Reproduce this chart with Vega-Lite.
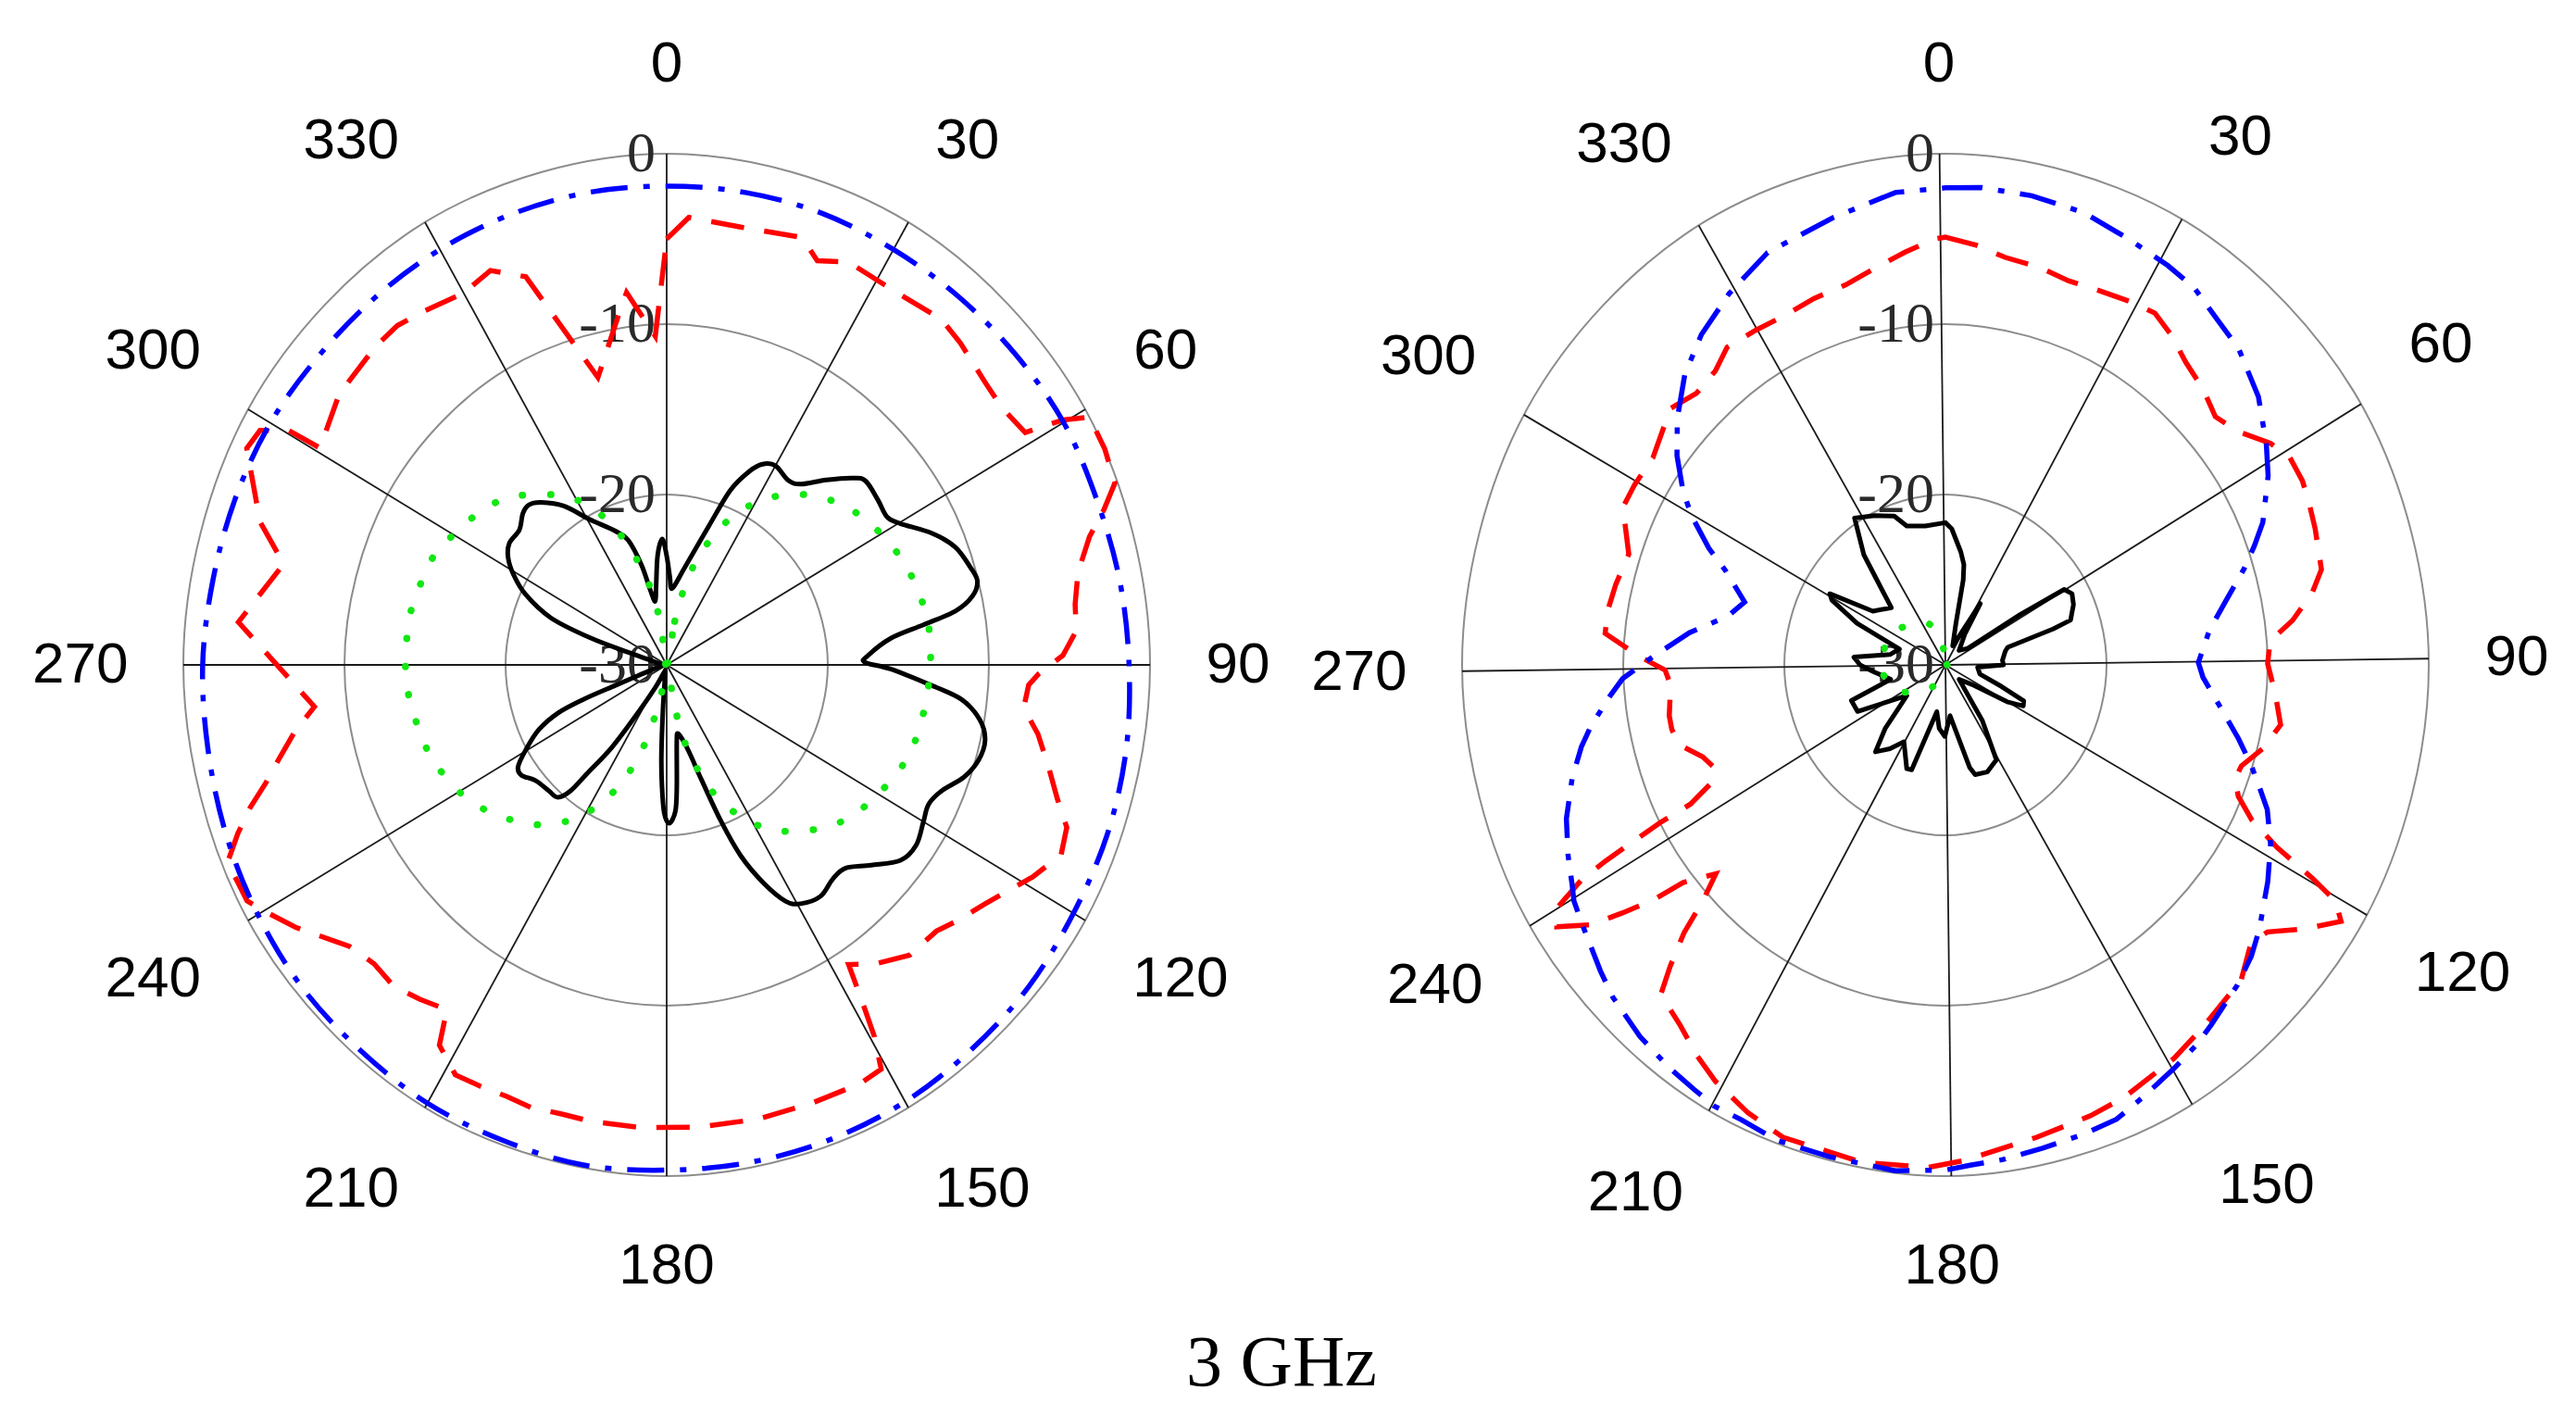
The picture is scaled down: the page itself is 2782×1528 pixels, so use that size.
{
  "$schema": "https://vega.github.io/schema/vega-lite/v6.json",
  "width": 2782,
  "height": 1528,
  "autosize": {"type": "fit", "contains": "padding"},
  "padding": 0,
  "background": "white",
  "config": {"view": {"stroke": null}},
  "datasets": {
    "rings": [
      {"chart":"L","db":-20,"angle":0},{"chart":"L","db":-20,"angle":30},{"chart":"L","db":-20,"angle":60},{"chart":"L","db":-20,"angle":90},{"chart":"L","db":-20,"angle":120},{"chart":"L","db":-20,"angle":150},{"chart":"L","db":-20,"angle":180},{"chart":"L","db":-20,"angle":210},{"chart":"L","db":-20,"angle":240},{"chart":"L","db":-20,"angle":270},{"chart":"L","db":-20,"angle":300},{"chart":"L","db":-20,"angle":330},
      {"chart":"L","db":-10,"angle":0},{"chart":"L","db":-10,"angle":30},{"chart":"L","db":-10,"angle":60},{"chart":"L","db":-10,"angle":90},{"chart":"L","db":-10,"angle":120},{"chart":"L","db":-10,"angle":150},{"chart":"L","db":-10,"angle":180},{"chart":"L","db":-10,"angle":210},{"chart":"L","db":-10,"angle":240},{"chart":"L","db":-10,"angle":270},{"chart":"L","db":-10,"angle":300},{"chart":"L","db":-10,"angle":330},
      {"chart":"L","db":0,"angle":0},{"chart":"L","db":0,"angle":30},{"chart":"L","db":0,"angle":60},{"chart":"L","db":0,"angle":90},{"chart":"L","db":0,"angle":120},{"chart":"L","db":0,"angle":150},{"chart":"L","db":0,"angle":180},{"chart":"L","db":0,"angle":210},{"chart":"L","db":0,"angle":240},{"chart":"L","db":0,"angle":270},{"chart":"L","db":0,"angle":300},{"chart":"L","db":0,"angle":330},
      {"chart":"R","db":-20,"angle":0},{"chart":"R","db":-20,"angle":30},{"chart":"R","db":-20,"angle":60},{"chart":"R","db":-20,"angle":90},{"chart":"R","db":-20,"angle":120},{"chart":"R","db":-20,"angle":150},{"chart":"R","db":-20,"angle":180},{"chart":"R","db":-20,"angle":210},{"chart":"R","db":-20,"angle":240},{"chart":"R","db":-20,"angle":270},{"chart":"R","db":-20,"angle":300},{"chart":"R","db":-20,"angle":330},
      {"chart":"R","db":-10,"angle":0},{"chart":"R","db":-10,"angle":30},{"chart":"R","db":-10,"angle":60},{"chart":"R","db":-10,"angle":90},{"chart":"R","db":-10,"angle":120},{"chart":"R","db":-10,"angle":150},{"chart":"R","db":-10,"angle":180},{"chart":"R","db":-10,"angle":210},{"chart":"R","db":-10,"angle":240},{"chart":"R","db":-10,"angle":270},{"chart":"R","db":-10,"angle":300},{"chart":"R","db":-10,"angle":330},
      {"chart":"R","db":0,"angle":0},{"chart":"R","db":0,"angle":30},{"chart":"R","db":0,"angle":60},{"chart":"R","db":0,"angle":90},{"chart":"R","db":0,"angle":120},{"chart":"R","db":0,"angle":150},{"chart":"R","db":0,"angle":180},{"chart":"R","db":0,"angle":210},{"chart":"R","db":0,"angle":240},{"chart":"R","db":0,"angle":270},{"chart":"R","db":0,"angle":300},{"chart":"R","db":0,"angle":330}
    ],
    "spokes": [
      {"chart":"L","angle":0,"label":"0"},{"chart":"L","angle":30,"label":"30"},{"chart":"L","angle":60,"label":"60"},{"chart":"L","angle":90,"label":"90"},{"chart":"L","angle":120,"label":"120"},{"chart":"L","angle":150,"label":"150"},{"chart":"L","angle":180,"label":"180"},{"chart":"L","angle":210,"label":"210"},{"chart":"L","angle":240,"label":"240"},{"chart":"L","angle":270,"label":"270"},{"chart":"L","angle":300,"label":"300"},{"chart":"L","angle":330,"label":"330"},
      {"chart":"R","angle":0,"label":"0"},{"chart":"R","angle":30,"label":"30"},{"chart":"R","angle":60,"label":"60"},{"chart":"R","angle":90,"label":"90"},{"chart":"R","angle":120,"label":"120"},{"chart":"R","angle":150,"label":"150"},{"chart":"R","angle":180,"label":"180"},{"chart":"R","angle":210,"label":"210"},{"chart":"R","angle":240,"label":"240"},{"chart":"R","angle":270,"label":"270"},{"chart":"R","angle":300,"label":"300"},{"chart":"R","angle":330,"label":"330"}
    ],
    "radial": [
      {"chart":"L","db":0,"label":"0"},{"chart":"L","db":-10,"label":"-10"},{"chart":"L","db":-20,"label":"-20"},{"chart":"L","db":-30,"label":"-30"},
      {"chart":"R","db":0,"label":"0"},{"chart":"R","db":-10,"label":"-10"},{"chart":"R","db":-20,"label":"-20"},{"chart":"R","db":-30,"label":"-30"}
    ],
    "series": [
      {"chart":"L","series":"blue","angle":0,"db":-1.9},{"chart":"L","series":"blue","angle":10,"db":-1.85},{"chart":"L","series":"blue","angle":20,"db":-1.8},{"chart":"L","series":"blue","angle":30,"db":-1.85},{"chart":"L","series":"blue","angle":40,"db":-1.8},{"chart":"L","series":"blue","angle":50,"db":-1.7},{"chart":"L","series":"blue","angle":60,"db":-1.55},{"chart":"L","series":"blue","angle":70,"db":-1.6},{"chart":"L","series":"blue","angle":80,"db":-1.45},{"chart":"L","series":"blue","angle":90,"db":-1.3},{"chart":"L","series":"blue","angle":100,"db":-1.05},{"chart":"L","series":"blue","angle":110,"db":-0.9},{"chart":"L","series":"blue","angle":120,"db":-0.85},{"chart":"L","series":"blue","angle":130,"db":-0.65},{"chart":"L","series":"blue","angle":140,"db":-0.55},{"chart":"L","series":"blue","angle":150,"db":-0.4},{"chart":"L","series":"blue","angle":160,"db":-0.35},{"chart":"L","series":"blue","angle":170,"db":-0.35},{"chart":"L","series":"blue","angle":180,"db":-0.35},{"chart":"L","series":"blue","angle":190,"db":-0.2},{"chart":"L","series":"blue","angle":200,"db":-0.3},{"chart":"L","series":"blue","angle":210,"db":-0.3},{"chart":"L","series":"blue","angle":220,"db":-0.45},{"chart":"L","series":"blue","angle":230,"db":-0.5},{"chart":"L","series":"blue","angle":240,"db":-0.7},{"chart":"L","series":"blue","angle":250,"db":-0.9},{"chart":"L","series":"blue","angle":260,"db":-1.1},{"chart":"L","series":"blue","angle":270,"db":-1.2},{"chart":"L","series":"blue","angle":280,"db":-1.4},{"chart":"L","series":"blue","angle":290,"db":-1.5},{"chart":"L","series":"blue","angle":300,"db":-1.6},{"chart":"L","series":"blue","angle":310,"db":-1.8},{"chart":"L","series":"blue","angle":320,"db":-1.85},{"chart":"L","series":"blue","angle":330,"db":-1.85},{"chart":"L","series":"blue","angle":340,"db":-1.85},{"chart":"L","series":"blue","angle":350,"db":-1.85},

      {"chart":"L","series":"red","angle":0,"db":-5.0},{"chart":"L","series":"red","angle":3,"db":-3.7},{"chart":"L","series":"red","angle":10,"db":-3.9},{"chart":"L","series":"red","angle":18.5,"db":-3.55},{"chart":"L","series":"red","angle":21.5,"db":-4.5},{"chart":"L","series":"red","angle":25.5,"db":-3.8},{"chart":"L","series":"red","angle":33,"db":-3.9},{"chart":"L","series":"red","angle":40,"db":-3.5},{"chart":"L","series":"red","angle":44,"db":-3.75},{"chart":"L","series":"red","angle":50,"db":-4.2},{"chart":"L","series":"red","angle":54,"db":-4.3},{"chart":"L","series":"red","angle":58.5,"db":-3.9},{"chart":"L","series":"red","angle":59.7,"db":-1.5},{"chart":"L","series":"red","angle":61,"db":0.0},{"chart":"L","series":"red","angle":65,"db":0.0},{"chart":"L","series":"red","angle":69,"db":-0.2},{"chart":"L","series":"red","angle":71.5,"db":-1.4},{"chart":"L","series":"red","angle":74,"db":-2.7},{"chart":"L","series":"red","angle":78,"db":-3.9},{"chart":"L","series":"red","angle":82,"db":-4.4},{"chart":"L","series":"red","angle":85.5,"db":-4.5},{"chart":"L","series":"red","angle":88.7,"db":-5.4},{"chart":"L","series":"red","angle":91.3,"db":-6.9},{"chart":"L","series":"red","angle":93,"db":-7.5},{"chart":"L","series":"red","angle":96.5,"db":-7.7},{"chart":"L","series":"red","angle":100,"db":-6.6},{"chart":"L","series":"red","angle":104,"db":-5.6},{"chart":"L","series":"red","angle":108,"db":-4.5},{"chart":"L","series":"red","angle":111,"db":-3.4},{"chart":"L","series":"red","angle":114.5,"db":-3.1},{"chart":"L","series":"red","angle":118.7,"db":-4.1},{"chart":"L","series":"red","angle":122,"db":-5.0},{"chart":"L","series":"red","angle":125.5,"db":-5.8},{"chart":"L","series":"red","angle":129.6,"db":-6.5},{"chart":"L","series":"red","angle":133,"db":-7.1},{"chart":"L","series":"red","angle":138.5,"db":-7.25},{"chart":"L","series":"red","angle":143.6,"db":-8.2},{"chart":"L","series":"red","angle":147.3,"db":-9.1},{"chart":"L","series":"red","angle":148.4,"db":-6.9},{"chart":"L","series":"red","angle":149.4,"db":-4.7},{"chart":"L","series":"red","angle":150.7,"db":-2.8},{"chart":"L","series":"red","angle":154,"db":-2.65},{"chart":"L","series":"red","angle":160.6,"db":-2.75},{"chart":"L","series":"red","angle":168,"db":-2.75},{"chart":"L","series":"red","angle":176,"db":-2.8},{"chart":"L","series":"red","angle":183.3,"db":-2.8},{"chart":"L","series":"red","angle":190,"db":-2.8},{"chart":"L","series":"red","angle":194,"db":-2.85},{"chart":"L","series":"red","angle":198,"db":-2.7},{"chart":"L","series":"red","angle":201.4,"db":-2.8},{"chart":"L","series":"red","angle":205,"db":-2.7},{"chart":"L","series":"red","angle":208.6,"db":-2.6},{"chart":"L","series":"red","angle":212.3,"db":-3.6},{"chart":"L","series":"red","angle":214,"db":-5.6},{"chart":"L","series":"red","angle":218,"db":-5.1},{"chart":"L","series":"red","angle":222,"db":-4.65},{"chart":"L","series":"red","angle":226,"db":-4.75},{"chart":"L","series":"red","angle":230,"db":-4.3},{"chart":"L","series":"red","angle":236.2,"db":-2.3},{"chart":"L","series":"red","angle":239.5,"db":-1.3},{"chart":"L","series":"red","angle":242,"db":-0.5},{"chart":"L","series":"red","angle":247,"db":-0.4},{"chart":"L","series":"red","angle":249.6,"db":-1.6},{"chart":"L","series":"red","angle":252,"db":-2.8},{"chart":"L","series":"red","angle":254.5,"db":-4.2},{"chart":"L","series":"red","angle":257.3,"db":-5.4},{"chart":"L","series":"red","angle":260.4,"db":-6.6},{"chart":"L","series":"red","angle":263.6,"db":-8.0},{"chart":"L","series":"red","angle":275.4,"db":-3.3},{"chart":"L","series":"red","angle":284,"db":-5.5},{"chart":"L","series":"red","angle":288.4,"db":-3.4},{"chart":"L","series":"red","angle":296,"db":-1.0},{"chart":"L","series":"red","angle":298.6,"db":-1.25},{"chart":"L","series":"red","angle":300.4,"db":-2.8},{"chart":"L","series":"red","angle":300.6,"db":-5.0},{"chart":"L","series":"red","angle":308,"db":-4.2},{"chart":"L","series":"red","angle":316,"db":-4.0},{"chart":"L","series":"red","angle":320,"db":-4.0},{"chart":"L","series":"red","angle":324,"db":-4.35},{"chart":"L","series":"red","angle":330,"db":-4.8},{"chart":"L","series":"red","angle":334.7,"db":-4.4},{"chart":"L","series":"red","angle":339,"db":-5.6},{"chart":"L","series":"red","angle":345.8,"db":-12.6},{"chart":"L","series":"red","angle":351.8,"db":-9.2},{"chart":"L","series":"red","angle":353.5,"db":-8.0},{"chart":"L","series":"red","angle":357.9,"db":-10.7},

      {"chart":"L","series":"green","angle":0,"db":-30},{"chart":"L","series":"green","angle":11,"db":-27.4},{"chart":"L","series":"green","angle":14,"db":-25.1},{"chart":"L","series":"green","angle":17.7,"db":-23.2},{"chart":"L","series":"green","angle":23,"db":-21.1},{"chart":"L","series":"green","angle":29.3,"db":-19.2},{"chart":"L","series":"green","angle":35.4,"db":-17.8},{"chart":"L","series":"green","angle":42,"db":-16.6},{"chart":"L","series":"green","angle":48.5,"db":-15.7},{"chart":"L","series":"green","angle":53.2,"db":-15.2},{"chart":"L","series":"green","angle":60.4,"db":-14.6},{"chart":"L","series":"green","angle":67.7,"db":-14.1},{"chart":"L","series":"green","angle":74.5,"db":-13.8},{"chart":"L","series":"green","angle":81,"db":-13.6},{"chart":"L","series":"green","angle":87.4,"db":-13.6},{"chart":"L","series":"green","angle":94,"db":-13.7},{"chart":"L","series":"green","angle":99.3,"db":-13.8},{"chart":"L","series":"green","angle":106.3,"db":-13.95},{"chart":"L","series":"green","angle":113.3,"db":-14.3},{"chart":"L","series":"green","angle":120.6,"db":-14.9},{"chart":"L","series":"green","angle":127.9,"db":-15.5},{"chart":"L","series":"green","angle":134.8,"db":-16.4},{"chart":"L","series":"green","angle":141.2,"db":-17.5},{"chart":"L","series":"green","angle":145.9,"db":-18.3},{"chart":"L","series":"green","angle":152.1,"db":-19.8},{"chart":"L","series":"green","angle":158.2,"db":-21.7},{"chart":"L","series":"green","angle":163.1,"db":-23.8},{"chart":"L","series":"green","angle":167.6,"db":-26.3},{"chart":"L","series":"green","angle":180,"db":-30},{"chart":"L","series":"green","angle":188,"db":-29.2},{"chart":"L","series":"green","angle":193.4,"db":-27},{"chart":"L","series":"green","angle":197.3,"db":-24.65},{"chart":"L","series":"green","angle":202,"db":-22.6},{"chart":"L","series":"green","angle":207,"db":-20.8},{"chart":"L","series":"green","angle":213.3,"db":-19.1},{"chart":"L","series":"green","angle":220.3,"db":-17.7},{"chart":"L","series":"green","angle":227,"db":-16.7},{"chart":"L","series":"green","angle":234,"db":-15.75},{"chart":"L","series":"green","angle":241.3,"db":-15.0},{"chart":"L","series":"green","angle":248.4,"db":-14.5},{"chart":"L","series":"green","angle":253.4,"db":-14.25},{"chart":"L","series":"green","angle":260.6,"db":-14.0},{"chart":"L","series":"green","angle":267,"db":-13.8},{"chart":"L","series":"green","angle":273.7,"db":-13.8},{"chart":"L","series":"green","angle":280.5,"db":-13.8},{"chart":"L","series":"green","angle":287.2,"db":-14.0},{"chart":"L","series":"green","angle":294,"db":-14.2},{"chart":"L","series":"green","angle":299.8,"db":-14.7},{"chart":"L","series":"green","angle":307.2,"db":-15.3},{"chart":"L","series":"green","angle":314.6,"db":-16.05},{"chart":"L","series":"green","angle":321.9,"db":-17.3},{"chart":"L","series":"green","angle":328.7,"db":-18.5},{"chart":"L","series":"green","angle":334.9,"db":-20.2},{"chart":"L","series":"green","angle":340.5,"db":-22.3},{"chart":"L","series":"green","angle":346.4,"db":-24.9},{"chart":"L","series":"green","angle":351,"db":-27.4},

      {"chart":"L","series":"black","angle":0,"db":-23.6},{"chart":"L","series":"black","angle":2.1,"db":-24.8},{"chart":"L","series":"black","angle":4.4,"db":-25.5},{"chart":"L","series":"black","angle":11,"db":-24.2},{"chart":"L","series":"black","angle":17.7,"db":-21.5},{"chart":"L","series":"black","angle":21.1,"db":-19.0},{"chart":"L","series":"black","angle":24.4,"db":-17.5},{"chart":"L","series":"black","angle":26.8,"db":-16.8},{"chart":"L","series":"black","angle":30,"db":-16.5},{"chart":"L","series":"black","angle":35,"db":-16.8},{"chart":"L","series":"black","angle":38.2,"db":-16.5},{"chart":"L","series":"black","angle":42.4,"db":-15.3},{"chart":"L","series":"black","angle":46.4,"db":-14.1},{"chart":"L","series":"black","angle":48.8,"db":-13.6},{"chart":"L","series":"black","angle":53.5,"db":-13.7},{"chart":"L","series":"black","angle":57.6,"db":-13.8},{"chart":"L","series":"black","angle":60.2,"db":-13.3},{"chart":"L","series":"black","angle":64.9,"db":-11.8},{"chart":"L","series":"black","angle":68.9,"db":-10.8},{"chart":"L","series":"black","angle":73.1,"db":-10.3},{"chart":"L","series":"black","angle":75.7,"db":-10.1},{"chart":"L","series":"black","angle":78,"db":-10.6},{"chart":"L","series":"black","angle":80,"db":-11.8},{"chart":"L","series":"black","angle":81.6,"db":-13.9},{"chart":"L","series":"black","angle":83.6,"db":-16.0},{"chart":"L","series":"black","angle":87.5,"db":-17.5},{"chart":"L","series":"black","angle":89.3,"db":-17.7},{"chart":"L","series":"black","angle":91,"db":-16.1},{"chart":"L","series":"black","angle":94,"db":-13.7},{"chart":"L","series":"black","angle":96.3,"db":-11.6},{"chart":"L","series":"black","angle":99.4,"db":-10.3},{"chart":"L","series":"black","angle":102.6,"db":-9.75},{"chart":"L","series":"black","angle":106.1,"db":-9.85},{"chart":"L","series":"black","angle":109.6,"db":-10.4},{"chart":"L","series":"black","angle":113.4,"db":-11.4},{"chart":"L","series":"black","angle":116.7,"db":-11.8},{"chart":"L","series":"black","angle":120,"db":-11.6},{"chart":"L","series":"black","angle":124.3,"db":-11.25},{"chart":"L","series":"black","angle":128.3,"db":-11.5},{"chart":"L","series":"black","angle":132.8,"db":-12.7},{"chart":"L","series":"black","angle":137,"db":-13.7},{"chart":"L","series":"black","angle":140.6,"db":-13.75},{"chart":"L","series":"black","angle":144.9,"db":-13.4},{"chart":"L","series":"black","angle":149.3,"db":-13.7},{"chart":"L","series":"black","angle":152,"db":-14.3},{"chart":"L","series":"black","angle":154.9,"db":-15.9},{"chart":"L","series":"black","angle":157.7,"db":-17.9},{"chart":"L","series":"black","angle":159.8,"db":-20.2},{"chart":"L","series":"black","angle":162.2,"db":-22.9},{"chart":"L","series":"black","angle":164.3,"db":-24.45},{"chart":"L","series":"black","angle":166.5,"db":-25.3},{"chart":"L","series":"black","angle":170,"db":-25.9},{"chart":"L","series":"black","angle":172,"db":-25.5},{"chart":"L","series":"black","angle":175,"db":-22.8},{"chart":"L","series":"black","angle":176.4,"db":-21.4},{"chart":"L","series":"black","angle":179,"db":-20.7},{"chart":"L","series":"black","angle":181,"db":-21.3},{"chart":"L","series":"black","angle":182.3,"db":-22.8},{"chart":"L","series":"black","angle":183.5,"db":-24.6},{"chart":"L","series":"black","angle":185,"db":-27.3},{"chart":"L","series":"black","angle":190,"db":-29.4},{"chart":"L","series":"black","angle":200,"db":-29.5},{"chart":"L","series":"black","angle":208,"db":-28.5},{"chart":"L","series":"black","angle":212.4,"db":-26.7},{"chart":"L","series":"black","angle":215.1,"db":-24.1},{"chart":"L","series":"black","angle":217.8,"db":-21.9},{"chart":"L","series":"black","angle":218.9,"db":-20.5},{"chart":"L","series":"black","angle":221,"db":-19.7},{"chart":"L","series":"black","angle":224.8,"db":-19.6},{"chart":"L","series":"black","angle":230.2,"db":-19.4},{"chart":"L","series":"black","angle":234.3,"db":-18.9},{"chart":"L","series":"black","angle":237,"db":-19.0},{"chart":"L","series":"black","angle":240.2,"db":-19.9},{"chart":"L","series":"black","angle":244.4,"db":-21.2},{"chart":"L","series":"black","angle":247.3,"db":-22.7},{"chart":"L","series":"black","angle":248.6,"db":-24.45},{"chart":"L","series":"black","angle":249.3,"db":-26.6},{"chart":"L","series":"black","angle":250.4,"db":-28.1},{"chart":"L","series":"black","angle":256,"db":-29.4},{"chart":"L","series":"black","angle":270,"db":-29.7},{"chart":"L","series":"black","angle":283,"db":-29.3},{"chart":"L","series":"black","angle":287,"db":-27.7},{"chart":"L","series":"black","angle":288.5,"db":-25.0},{"chart":"L","series":"black","angle":291,"db":-22.3},{"chart":"L","series":"black","angle":295.3,"db":-20.3},{"chart":"L","series":"black","angle":299.2,"db":-19.1},{"chart":"L","series":"black","angle":302.7,"db":-18.3},{"chart":"L","series":"black","angle":306.2,"db":-17.9},{"chart":"L","series":"black","angle":310.9,"db":-17.9},{"chart":"L","series":"black","angle":314.9,"db":-17.4},{"chart":"L","series":"black","angle":317.7,"db":-17.3},{"chart":"L","series":"black","angle":320.8,"db":-17.7},{"chart":"L","series":"black","angle":325.6,"db":-18.7},{"chart":"L","series":"black","angle":330.7,"db":-20.2},{"chart":"L","series":"black","angle":337.8,"db":-21.5},{"chart":"L","series":"black","angle":341.9,"db":-22.3},{"chart":"L","series":"black","angle":345,"db":-23.9},{"chart":"L","series":"black","angle":347,"db":-25.5},{"chart":"L","series":"black","angle":349.2,"db":-26.2},{"chart":"L","series":"black","angle":352,"db":-25.3},{"chart":"L","series":"black","angle":355,"db":-23.55},{"chart":"L","series":"black","angle":357.9,"db":-22.6},

      {"chart":"R","series":"blue","angle":0,"db":-2.0},{"chart":"R","series":"blue","angle":4.6,"db":-1.9},{"chart":"R","series":"blue","angle":11,"db":-1.95},{"chart":"R","series":"blue","angle":18,"db":-2.1},{"chart":"R","series":"blue","angle":24.6,"db":-2.55},{"chart":"R","series":"blue","angle":30.5,"db":-2.8},{"chart":"R","series":"blue","angle":34.8,"db":-3.0},{"chart":"R","series":"blue","angle":40,"db":-3.65},{"chart":"R","series":"blue","angle":44.4,"db":-4.0},{"chart":"R","series":"blue","angle":51,"db":-5.0},{"chart":"R","series":"blue","angle":57,"db":-6.25},{"chart":"R","series":"blue","angle":61,"db":-7.1},{"chart":"R","series":"blue","angle":67,"db":-8.6},{"chart":"R","series":"blue","angle":70,"db":-9.6},{"chart":"R","series":"blue","angle":73,"db":-10.6},{"chart":"R","series":"blue","angle":78,"db":-12.25},{"chart":"R","series":"blue","angle":83,"db":-13.5},{"chart":"R","series":"blue","angle":89.5,"db":-14.3},{"chart":"R","series":"blue","angle":92.6,"db":-14.0},{"chart":"R","series":"blue","angle":100,"db":-12.3},{"chart":"R","series":"blue","angle":103.4,"db":-11.3},{"chart":"R","series":"blue","angle":107,"db":-10.2},{"chart":"R","series":"blue","angle":110,"db":-9.3},{"chart":"R","series":"blue","angle":113,"db":-8.3},{"chart":"R","series":"blue","angle":117.5,"db":-7.25},{"chart":"R","series":"blue","angle":122.4,"db":-6.3},{"chart":"R","series":"blue","angle":128.5,"db":-5.1},{"chart":"R","series":"blue","angle":132,"db":-4.45},{"chart":"R","series":"blue","angle":136,"db":-3.9},{"chart":"R","series":"blue","angle":142,"db":-3.2},{"chart":"R","series":"blue","angle":145,"db":-2.8},{"chart":"R","series":"blue","angle":149,"db":-2.4},{"chart":"R","series":"blue","angle":154.4,"db":-1.8},{"chart":"R","series":"blue","angle":158.3,"db":-1.3},{"chart":"R","series":"blue","angle":162.6,"db":-1.15},{"chart":"R","series":"blue","angle":168,"db":-1.0},{"chart":"R","series":"blue","angle":173,"db":-0.75},{"chart":"R","series":"blue","angle":177,"db":-0.6},{"chart":"R","series":"blue","angle":180,"db":-0.35},{"chart":"R","series":"blue","angle":186,"db":-0.15},{"chart":"R","series":"blue","angle":194,"db":-0.25},{"chart":"R","series":"blue","angle":200.6,"db":-0.2},{"chart":"R","series":"blue","angle":205.4,"db":-0.45},{"chart":"R","series":"blue","angle":209,"db":-0.4},{"chart":"R","series":"blue","angle":212,"db":-0.6},{"chart":"R","series":"blue","angle":216,"db":-0.8},{"chart":"R","series":"blue","angle":221,"db":-1.1},{"chart":"R","series":"blue","angle":226.6,"db":-1.6},{"chart":"R","series":"blue","angle":230,"db":-2.05},{"chart":"R","series":"blue","angle":236,"db":-2.8},{"chart":"R","series":"blue","angle":239,"db":-3.1},{"chart":"R","series":"blue","angle":241,"db":-3.5},{"chart":"R","series":"blue","angle":244.5,"db":-4.05},{"chart":"R","series":"blue","angle":249,"db":-4.8},{"chart":"R","series":"blue","angle":254,"db":-5.9},{"chart":"R","series":"blue","angle":258,"db":-6.9},{"chart":"R","series":"blue","angle":260.7,"db":-7.7},{"chart":"R","series":"blue","angle":265,"db":-9.1},{"chart":"R","series":"blue","angle":267.7,"db":-9.95},{"chart":"R","series":"blue","angle":270.6,"db":-11.4},{"chart":"R","series":"blue","angle":276.8,"db":-14.0},{"chart":"R","series":"blue","angle":282,"db":-16.2},{"chart":"R","series":"blue","angle":286.5,"db":-17.0},{"chart":"R","series":"blue","angle":292,"db":-15.3},{"chart":"R","series":"blue","angle":295,"db":-13.8},{"chart":"R","series":"blue","angle":299,"db":-12.0},{"chart":"R","series":"blue","angle":302,"db":-10.8},{"chart":"R","series":"blue","angle":306.4,"db":-9.3},{"chart":"R","series":"blue","angle":311,"db":-7.95},{"chart":"R","series":"blue","angle":316.5,"db":-6.5},{"chart":"R","series":"blue","angle":322,"db":-5.4},{"chart":"R","series":"blue","angle":328.4,"db":-4.4},{"chart":"R","series":"blue","angle":335.5,"db":-3.4},{"chart":"R","series":"blue","angle":345,"db":-2.85},{"chart":"R","series":"blue","angle":353.6,"db":-2.1},

      {"chart":"R","series":"red","angle":0,"db":-4.9},{"chart":"R","series":"red","angle":4.5,"db":-5.3},{"chart":"R","series":"red","angle":8.85,"db":-5.8},{"chart":"R","series":"red","angle":14,"db":-5.95},{"chart":"R","series":"red","angle":18.7,"db":-6.2},{"chart":"R","series":"red","angle":23.6,"db":-6.05},{"chart":"R","series":"red","angle":28.1,"db":-5.8},{"chart":"R","series":"red","angle":32.2,"db":-5.6},{"chart":"R","series":"red","angle":35.9,"db":-6.1},{"chart":"R","series":"red","angle":40,"db":-6.8},{"chart":"R","series":"red","angle":44.7,"db":-7.25},{"chart":"R","series":"red","angle":49,"db":-7.8},{"chart":"R","series":"red","angle":53,"db":-7.25},{"chart":"R","series":"red","angle":57.2,"db":-6.0},{"chart":"R","series":"red","angle":60.3,"db":-5.4},{"chart":"R","series":"red","angle":64,"db":-5.35},{"chart":"R","series":"red","angle":67,"db":-5.5},{"chart":"R","series":"red","angle":70.8,"db":-5.7},{"chart":"R","series":"red","angle":76.5,"db":-6.0},{"chart":"R","series":"red","angle":79.5,"db":-6.85},{"chart":"R","series":"red","angle":83.1,"db":-8.3},{"chart":"R","series":"red","angle":86,"db":-9.8},{"chart":"R","series":"red","angle":89.8,"db":-10.0},{"chart":"R","series":"red","angle":94.8,"db":-9.45},{"chart":"R","series":"red","angle":99.6,"db":-8.9},{"chart":"R","series":"red","angle":104,"db":-9.7},{"chart":"R","series":"red","angle":107.9,"db":-10.7},{"chart":"R","series":"red","angle":110.5,"db":-10.8},{"chart":"R","series":"red","angle":113,"db":-10.25},{"chart":"R","series":"red","angle":115.6,"db":-8.9},{"chart":"R","series":"red","angle":117.5,"db":-6.8},{"chart":"R","series":"red","angle":118.8,"db":-4.0},{"chart":"R","series":"red","angle":119.8,"db":-2.1},{"chart":"R","series":"red","angle":121.5,"db":-1.2},{"chart":"R","series":"red","angle":124.7,"db":-2.8},{"chart":"R","series":"red","angle":128.1,"db":-4.6},{"chart":"R","series":"red","angle":130.6,"db":-5.0},{"chart":"R","series":"red","angle":135.2,"db":-3.95},{"chart":"R","series":"red","angle":143.1,"db":-3.4},{"chart":"R","series":"red","angle":148.4,"db":-2.9},{"chart":"R","series":"red","angle":156.4,"db":-2.3},{"chart":"R","series":"red","angle":161.2,"db":-2.05},{"chart":"R","series":"red","angle":168.5,"db":-1.7},{"chart":"R","series":"red","angle":177.6,"db":-0.9},{"chart":"R","series":"red","angle":182,"db":-0.5},{"chart":"R","series":"red","angle":190,"db":-0.35},{"chart":"R","series":"red","angle":200,"db":-0.5},{"chart":"R","series":"red","angle":205,"db":-1.0},{"chart":"R","series":"red","angle":210.3,"db":-1.7},{"chart":"R","series":"red","angle":214.1,"db":-2.4},{"chart":"R","series":"red","angle":217.9,"db":-3.2},{"chart":"R","series":"red","angle":222.4,"db":-3.8},{"chart":"R","series":"red","angle":224,"db":-5.4},{"chart":"R","series":"red","angle":225.9,"db":-7.4},{"chart":"R","series":"red","angle":227.4,"db":-9.55},{"chart":"R","series":"red","angle":229.3,"db":-11.2},{"chart":"R","series":"red","angle":231.9,"db":-9.3},{"chart":"R","series":"red","angle":232.7,"db":-7.3},{"chart":"R","series":"red","angle":234,"db":-5.25},{"chart":"R","series":"red","angle":235.3,"db":-3.2},{"chart":"R","series":"red","angle":237.5,"db":-1.4},{"chart":"R","series":"red","angle":239.4,"db":-2.0},{"chart":"R","series":"red","angle":240.8,"db":-4.1},{"chart":"R","series":"red","angle":241.4,"db":-6.0},{"chart":"R","series":"red","angle":241.9,"db":-8.2},{"chart":"R","series":"red","angle":242.4,"db":-10.0},{"chart":"R","series":"red","angle":242.7,"db":-12.2},{"chart":"R","series":"red","angle":244.6,"db":-14.0},{"chart":"R","series":"red","angle":247.5,"db":-14.4},{"chart":"R","series":"red","angle":250.3,"db":-14.0},{"chart":"R","series":"red","angle":254.2,"db":-12.8},{"chart":"R","series":"red","angle":257.5,"db":-12.6},{"chart":"R","series":"red","angle":260.1,"db":-12.6},{"chart":"R","series":"red","angle":266,"db":-12.9},{"chart":"R","series":"red","angle":269,"db":-12.6},{"chart":"R","series":"red","angle":271.5,"db":-11.0},{"chart":"R","series":"red","angle":275,"db":-8.8},{"chart":"R","series":"red","angle":278.7,"db":-8.8},{"chart":"R","series":"red","angle":283,"db":-9.0},{"chart":"R","series":"red","angle":288.3,"db":-9.3},{"chart":"R","series":"red","angle":294.8,"db":-7.95},{"chart":"R","series":"red","angle":298.7,"db":-8.0},{"chart":"R","series":"red","angle":303.8,"db":-8.15},{"chart":"R","series":"red","angle":311.4,"db":-7.25},{"chart":"R","series":"red","angle":315.9,"db":-7.8},{"chart":"R","series":"red","angle":320.4,"db":-7.6},{"chart":"R","series":"red","angle":324,"db":-6.95},{"chart":"R","series":"red","angle":329.1,"db":-7.1},{"chart":"R","series":"red","angle":334.1,"db":-7.2},{"chart":"R","series":"red","angle":339.2,"db":-7.0},{"chart":"R","series":"red","angle":344.5,"db":-6.85},{"chart":"R","series":"red","angle":349,"db":-6.35},{"chart":"R","series":"red","angle":354.1,"db":-5.65},{"chart":"R","series":"red","angle":358.4,"db":-5.0},

      {"chart":"R","series":"black","angle":0,"db":-21.65},{"chart":"R","series":"black","angle":2.8,"db":-22.0},{"chart":"R","series":"black","angle":8.2,"db":-23.3},{"chart":"R","series":"black","angle":11,"db":-24.0},{"chart":"R","series":"black","angle":12.5,"db":-24.9},{"chart":"R","series":"black","angle":15,"db":-27.5},{"chart":"R","series":"black","angle":22,"db":-28.8},{"chart":"R","series":"black","angle":28,"db":-27.8},{"chart":"R","series":"black","angle":31,"db":-25.8},{"chart":"R","series":"black","angle":33.5,"db":-27.8},{"chart":"R","series":"black","angle":45,"db":-28.8},{"chart":"R","series":"black","angle":55,"db":-28.3},{"chart":"R","series":"black","angle":57.5,"db":-24.5},{"chart":"R","series":"black","angle":59,"db":-21.4},{"chart":"R","series":"black","angle":62,"db":-21.1},{"chart":"R","series":"black","angle":66,"db":-21.3},{"chart":"R","series":"black","angle":71.3,"db":-21.8},{"chart":"R","series":"black","angle":72.5,"db":-23.0},{"chart":"R","series":"black","angle":75,"db":-26.0},{"chart":"R","series":"black","angle":77.8,"db":-26.2},{"chart":"R","series":"black","angle":85.6,"db":-26.45},{"chart":"R","series":"black","angle":90,"db":-26.4},{"chart":"R","series":"black","angle":94,"db":-28.0},{"chart":"R","series":"black","angle":104,"db":-27.8},{"chart":"R","series":"black","angle":110,"db":-26.3},{"chart":"R","series":"black","angle":113.5,"db":-24.7},{"chart":"R","series":"black","angle":116.5,"db":-24.6},{"chart":"R","series":"black","angle":119.5,"db":-25.6},{"chart":"R","series":"black","angle":125,"db":-28.0},{"chart":"R","series":"black","angle":135,"db":-28.8},{"chart":"R","series":"black","angle":145,"db":-26.0},{"chart":"R","series":"black","angle":150.4,"db":-23.6},{"chart":"R","series":"black","angle":157.6,"db":-23.2},{"chart":"R","series":"black","angle":164,"db":-23.3},{"chart":"R","series":"black","angle":166,"db":-23.8},{"chart":"R","series":"black","angle":174.5,"db":-27.0},{"chart":"R","series":"black","angle":180.5,"db":-25.8},{"chart":"R","series":"black","angle":185.9,"db":-26.25},{"chart":"R","series":"black","angle":191,"db":-27.2},{"chart":"R","series":"black","angle":198.8,"db":-23.5},{"chart":"R","series":"black","angle":201.5,"db":-23.45},{"chart":"R","series":"black","angle":209.7,"db":-24.8},{"chart":"R","series":"black","angle":215,"db":-24.0},{"chart":"R","series":"black","angle":220.4,"db":-23.3},{"chart":"R","series":"black","angle":225,"db":-24.7},{"chart":"R","series":"black","angle":233,"db":-27.0},{"chart":"R","series":"black","angle":243.4,"db":-23.9},{"chart":"R","series":"black","angle":250.3,"db":-23.8},{"chart":"R","series":"black","angle":256,"db":-26.5},{"chart":"R","series":"black","angle":265,"db":-25.5},{"chart":"R","series":"black","angle":270,"db":-24.7},{"chart":"R","series":"black","angle":274.6,"db":-24.3},{"chart":"R","series":"black","angle":280,"db":-26.5},{"chart":"R","series":"black","angle":288,"db":-27.0},{"chart":"R","series":"black","angle":294,"db":-24.0},{"chart":"R","series":"black","angle":298.3,"db":-22.0},{"chart":"R","series":"black","angle":300.2,"db":-21.7},{"chart":"R","series":"black","angle":305,"db":-24.5},{"chart":"R","series":"black","angle":315,"db":-25.25},{"chart":"R","series":"black","angle":321.9,"db":-21.8},{"chart":"R","series":"black","angle":326.8,"db":-19.7},{"chart":"R","series":"black","angle":333.4,"db":-20.2},{"chart":"R","series":"black","angle":340,"db":-20.7},{"chart":"R","series":"black","angle":343.6,"db":-21.5},{"chart":"R","series":"black","angle":351.3,"db":-21.75},

      {"chart":"R","series":"green","angle":0,"db":-30},{"chart":"R","series":"green","angle":90,"db":-29.9},{"chart":"R","series":"green","angle":180,"db":-30},{"chart":"R","series":"green","angle":200,"db":-29.2},{"chart":"R","series":"green","angle":218,"db":-28.2},{"chart":"R","series":"green","angle":243,"db":-26.7},{"chart":"R","series":"green","angle":269,"db":-26.0},{"chart":"R","series":"green","angle":301,"db":-26.3},{"chart":"R","series":"green","angle":335,"db":-27.3},{"chart":"R","series":"green","angle":350,"db":-28.8}
    ]
  },
  "encoding": {
    "x": {"field": "px", "type": "quantitative", "scale": {"domain": [-1.37931, 3.95019], "nice": false, "zero": false}, "axis": null},
    "y": {"field": "py", "type": "quantitative", "scale": {"domain": [-1.46739, 1.30072], "nice": false, "zero": false}, "axis": null}
  },
  "layer": [
    {
      "data": {"name": "rings"},
      "transform": [
        {"calculate": "datum.chart === 'L' ? 0 : 2.6456", "as": "cx"},
        {"calculate": "(datum.db + 30) / 30", "as": "r"},
        {"calculate": "datum.cx + datum.r * sin(datum.angle * PI / 180)", "as": "px"},
        {"calculate": "datum.r * cos(datum.angle * PI / 180)", "as": "py"}
      ],
      "mark": {"type": "line", "interpolate": "cardinal-closed", "stroke": "#8c8c8c", "strokeWidth": 2},
      "encoding": {
        "detail": [{"field": "chart", "type": "nominal"}, {"field": "db", "type": "nominal"}],
        "order": {"field": "angle", "type": "quantitative"}
      }
    },
    {
      "data": {"name": "spokes"},
      "transform": [
        {"calculate": "datum.chart === 'L' ? 0 : 2.6456", "as": "cx"},
        {"calculate": "datum.angle + (datum.chart === 'L' ? 0 : -0.7)", "as": "th"},
        {"calculate": "datum.cx", "as": "px"},
        {"calculate": "0", "as": "py"},
        {"calculate": "datum.cx + sin(datum.th * PI / 180)", "as": "px2"},
        {"calculate": "cos(datum.th * PI / 180)", "as": "py2"}
      ],
      "mark": {"type": "rule", "stroke": "#1a1a1a", "strokeWidth": 1.8},
      "encoding": {
        "x2": {"field": "px2"},
        "y2": {"field": "py2"}
      }
    },
    {
      "data": {"name": "radial"},
      "transform": [
        {"calculate": "datum.chart === 'L' ? 0 : 2.6456", "as": "cx"},
        {"calculate": "(datum.db + 30) / 30", "as": "r"},
        {"calculate": "datum.cx", "as": "px"},
        {"calculate": "datum.r", "as": "py"}
      ],
      "mark": {"type": "text", "align": "right", "baseline": "middle", "dx": -12, "font": "Liberation Serif", "fontSize": 62, "fill": "#2a2a2a"},
      "encoding": {"text": {"field": "label", "type": "nominal"}}
    },
    {
      "data": {"name": "spokes"},
      "transform": [
        {"calculate": "datum.angle + (datum.chart === 'L' ? 0 : -0.7)", "as": "th"},
        {"calculate": "sin(datum.th * PI / 180)", "as": "sx"},
        {"calculate": "cos(datum.th * PI / 180)", "as": "cy"},
        {"calculate": "(datum.chart === 'L' ? 0 : 2.6456) + 1.12 * datum.sx + (abs(datum.sx) < 0.05 ? 0 : (datum.sx > 0 ? 1 : -1)) * length(datum.label) * 0.031", "as": "px"},
        {"calculate": "1.12 * datum.cy + (abs(datum.cy) < 0.05 ? 0 : (datum.cy > 0 ? 1 : -1)) * 0.055", "as": "py"}
      ],
      "mark": {"type": "text", "align": "center", "baseline": "middle", "font": "Liberation Sans", "fontSize": 62, "fill": "#000000"},
      "encoding": {"text": {"field": "label", "type": "nominal"}}
    },
    {
      "data": {"values": [{"label": "3 GHz"}]},
      "transform": [
        {"calculate": "1.272", "as": "px"},
        {"calculate": "-1.4094", "as": "py"}
      ],
      "mark": {"type": "text", "align": "center", "baseline": "alphabetic", "font": "Liberation Serif", "fontSize": 78, "fill": "#000000"},
      "encoding": {"text": {"field": "label", "type": "nominal"}}
    },
    {
      "data": {"name": "series"},
      "transform": [
        {"filter": "datum.series === 'black' && datum.chart === 'L'"},
        {"calculate": "(datum.db + 30) / 30", "as": "r"},
        {"calculate": "datum.r * sin(datum.angle * PI / 180)", "as": "px"},
        {"calculate": "datum.r * cos(datum.angle * PI / 180)", "as": "py"}
      ],
      "mark": {"type": "line", "interpolate": "cardinal-closed", "stroke": "#000000", "strokeWidth": 5, "strokeJoin": "round"},
      "encoding": {"order": {"field": "angle", "type": "quantitative"}}
    },
    {
      "data": {"name": "series"},
      "transform": [
        {"filter": "datum.series === 'black' && datum.chart === 'R'"},
        {"calculate": "(datum.db + 30) / 30", "as": "r"},
        {"calculate": "2.6456 + datum.r * sin(datum.angle * PI / 180)", "as": "px"},
        {"calculate": "datum.r * cos(datum.angle * PI / 180)", "as": "py"}
      ],
      "mark": {"type": "line", "interpolate": "linear-closed", "stroke": "#000000", "strokeWidth": 5, "strokeJoin": "round"},
      "encoding": {"order": {"field": "angle", "type": "quantitative"}}
    },
    {
      "data": {"name": "series"},
      "transform": [
        {"filter": "datum.series === 'red'"},
        {"calculate": "datum.chart === 'L' ? 0 : 2.6456", "as": "cx"},
        {"calculate": "(datum.db + 30) / 30", "as": "r"},
        {"calculate": "datum.cx + datum.r * sin(datum.angle * PI / 180)", "as": "px"},
        {"calculate": "datum.r * cos(datum.angle * PI / 180)", "as": "py"}
      ],
      "mark": {"type": "line", "interpolate": "linear-closed", "stroke": "#ff0000", "strokeWidth": 5.5, "strokeDash": [36, 22]},
      "encoding": {
        "detail": {"field": "chart", "type": "nominal"},
        "order": {"field": "angle", "type": "quantitative"}
      }
    },
    {
      "data": {"name": "series"},
      "transform": [
        {"filter": "datum.series === 'blue' && datum.chart === 'L'"},
        {"calculate": "(datum.db + 30) / 30", "as": "r"},
        {"calculate": "datum.r * sin(datum.angle * PI / 180)", "as": "px"},
        {"calculate": "datum.r * cos(datum.angle * PI / 180)", "as": "py"}
      ],
      "mark": {"type": "line", "interpolate": "cardinal-closed", "stroke": "#0000ff", "strokeWidth": 5.5, "strokeDash": [40, 17, 7, 17]},
      "encoding": {"order": {"field": "angle", "type": "quantitative"}}
    },
    {
      "data": {"name": "series"},
      "transform": [
        {"filter": "datum.series === 'blue' && datum.chart === 'R'"},
        {"calculate": "(datum.db + 30) / 30", "as": "r"},
        {"calculate": "2.6456 + datum.r * sin(datum.angle * PI / 180)", "as": "px"},
        {"calculate": "datum.r * cos(datum.angle * PI / 180)", "as": "py"}
      ],
      "mark": {"type": "line", "interpolate": "linear-closed", "stroke": "#0000ff", "strokeWidth": 5.5, "strokeDash": [40, 17, 7, 17]},
      "encoding": {"order": {"field": "angle", "type": "quantitative"}}
    },
    {
      "data": {"name": "series"},
      "transform": [
        {"filter": "datum.series === 'green'"},
        {"calculate": "datum.chart === 'L' ? 0 : 2.6456", "as": "cx"},
        {"calculate": "(datum.db + 30) / 30", "as": "r"},
        {"calculate": "datum.cx + datum.r * sin(datum.angle * PI / 180)", "as": "px"},
        {"calculate": "datum.r * cos(datum.angle * PI / 180)", "as": "py"}
      ],
      "mark": {"type": "line", "interpolate": "cardinal-closed", "stroke": "#12e812", "strokeWidth": 7.5, "strokeDash": [0.5, 30], "strokeCap": "round"},
      "encoding": {
        "detail": {"field": "chart", "type": "nominal"},
        "order": {"field": "angle", "type": "quantitative"}
      }
    }
  ]
}
